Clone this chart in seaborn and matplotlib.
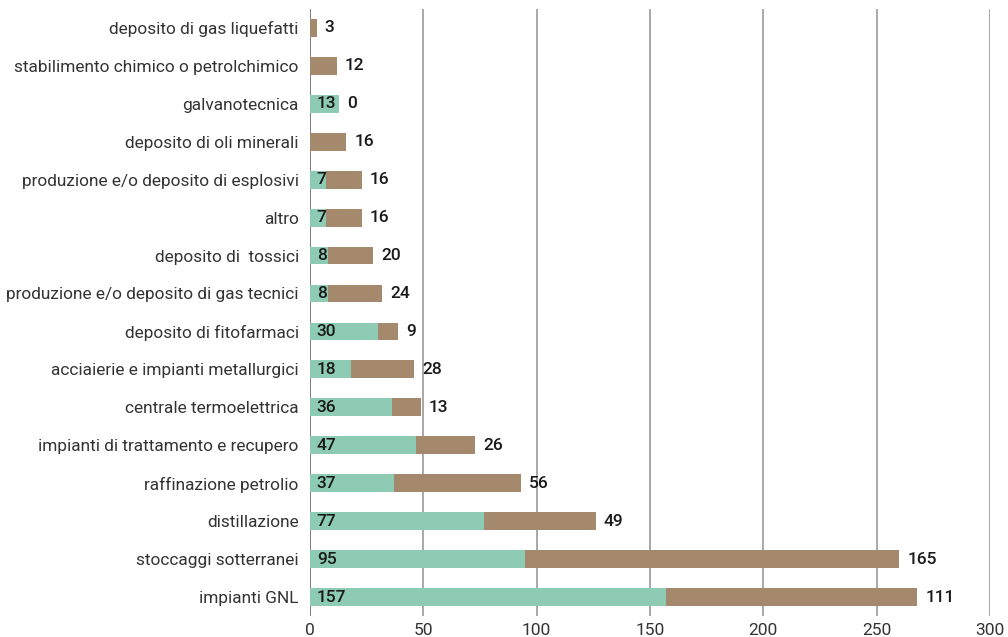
import matplotlib
matplotlib.use("Agg")
import matplotlib.pyplot as plt
import seaborn as sns
import pandas as pd

# Data (top to bottom)
categories = [
    'deposito di gas liquefatti',
    'stabilimento chimico o petrolchimico',
    'galvanotecnica',
    'deposito di oli minerali',
    'produzione e/o deposito di esplosivi',
    'altro',
    'deposito di  tossici',
    'produzione e/o deposito di gas tecnici',
    'deposito di fitofarmaci',
    'acciaierie e impianti metallurgici',
    'centrale termoelettrica',
    'impianti di trattamento e recupero',
    'raffinazione petrolio',
    'distillazione',
    'stoccaggi sotterranei',
    'impianti GNL',
]
green_values = [0, 0, 13, 0, 7, 7, 8, 8, 30, 18, 36, 47, 37, 77, 95, 157]
brown_values = [3, 12, 0, 16, 16, 16, 20, 24, 9, 28, 13, 26, 56, 49, 165, 111]
x_ticks = [0, 50, 100, 150, 200, 250, 300]

GREEN = '#8ecbb4'
BROWN = '#a5896c'

df = pd.DataFrame({'categoria': categories, 'verde': green_values, 'marrone': brown_values})
df['totale'] = df['verde'] + df['marrone']

sns.set_style('white')
plt.rcParams['font.family'] = ['Roboto', 'DejaVu Sans']

fig = plt.figure(figsize=(10.08, 6.37), dpi=100)
ax = fig.add_axes([0.3075, 0.033, 0.6745, 0.953])

sns.barplot(data=df, x='totale', y='categoria', color=BROWN, width=0.47,
            saturation=1, orient='h', ax=ax, zorder=3, linewidth=0)
sns.barplot(data=df, x='verde', y='categoria', color=GREEN, width=0.47,
            saturation=1, orient='h', ax=ax, zorder=3, linewidth=0)

# value labels
for i, row in df.iterrows():
    if row['verde'] > 0:
        ax.text(3, i, str(row['verde']), va='center', ha='left',
                fontsize=12.5, color='#1a1a1a', fontweight='medium', zorder=4)
    ax.text(row['totale'] + 3.5, i, str(row['marrone']), va='center', ha='left',
            fontsize=12.5, color='#1a1a1a', fontweight='medium', zorder=4)

ax.set_xlim(0, 300)
ax.set_ylim(15.5, -0.5)
ax.set_xticks(x_ticks)
ax.xaxis.grid(True, color='#999999', linewidth=1.2, zorder=0)
ax.yaxis.grid(False)
for s in ax.spines.values():
    s.set_visible(False)
ax.axvline(0, color='#777777', linewidth=1.2, zorder=2)
ax.tick_params(axis='x', length=0, pad=5, labelsize=12.5, labelcolor='#333333')
ax.tick_params(axis='y', length=0, pad=8, labelsize=12.4, labelcolor='#333333')
ax.set_xlabel('')
ax.set_ylabel('')

plt.savefig('out.png', dpi=100)
